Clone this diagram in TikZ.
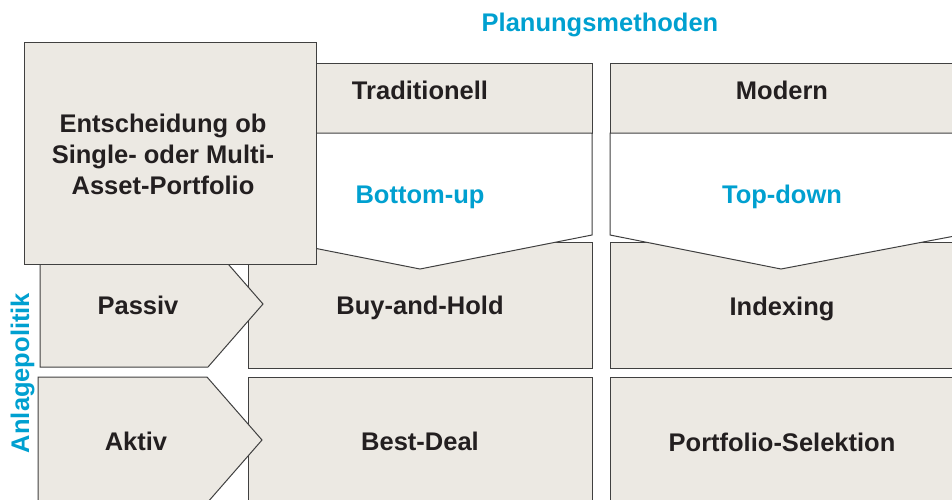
\documentclass[tikz,border=0pt]{standalone}
\usepackage{fontspec}
\setmainfont{Liberation Sans}
\definecolor{cellgray}{RGB}{236,233,227}
\definecolor{headblue}{RGB}{0,160,208}
\definecolor{textdark}{RGB}{35,31,32}

\begin{document}
\begin{tikzpicture}[x=1pt,y=-1pt,
  every node/.style={font=\fontsize{25.5}{31}\selectfont\bfseries, text=textdark, inner sep=0pt},
  cell/.style={draw=black!75, line width=1pt, fill=cellgray},
  head/.style={text=headblue}]
  \useasboundingbox (0,0) rectangle (952,499);
  \clip (0,0) rectangle (952,499);

  \node[head, anchor=base] (plan) at (600,31) {Planungsmethoden};
  \node[head, anchor=base, rotate=90] (anlage) at (29,373) {Anlagepolitik};

  \draw[cell] (248,63) rectangle (592,133);
  \node[anchor=base] (trad) at (420,99) {Traditionell};
  \draw[cell] (610,63) rectangle (960,133);
  \node[anchor=base] (modern) at (782,99) {Modern};

  \draw[cell] (248,242) rectangle (592,368);
  \node[anchor=base] (buy) at (420,314) {Buy-and-Hold};
  \draw[cell] (610,242) rectangle (960,368);
  \node[anchor=base] (index) at (782,315) {Indexing};
  \draw[cell] (248,377) rectangle (592,505);
  \node[anchor=base] (best) at (420,450) {Best-Deal};
  \draw[cell] (610,377) rectangle (960,505);
  \node[anchor=base] (select) at (782,451) {Portfolio-Selektion};

  \draw[cell, fill=white] (248,133) -- (592,133) -- (592,235) -- (420,269) -- (248,235) -- cycle;
  \node[head, anchor=base] (bottomup) at (420,203) {Bottom-up};
  \draw[cell, fill=white] (610,133) -- (960,133) -- (960,235) -- (781,269) -- (610,235) -- cycle;
  \node[head, anchor=base] (topdown) at (782,203) {Top-down};

  \draw[cell] (40,241) -- (208,241) -- (263,304) -- (208,367) -- (40,367) -- cycle;
  \node[anchor=base] (passiv) at (138,314) {Passiv};
  \draw[cell] (38,377) -- (207,377) -- (262,440) -- (207,503) -- (38,503) -- cycle;
  \node[anchor=base] (aktiv) at (136,450) {Aktiv};

  \draw[cell] (24,42) rectangle (316,264);
  \node[align=center] (choice) at (163,154) {Entscheidung ob\\Single- oder Multi-\\Asset-Portfolio};
\end{tikzpicture}
\end{document}
